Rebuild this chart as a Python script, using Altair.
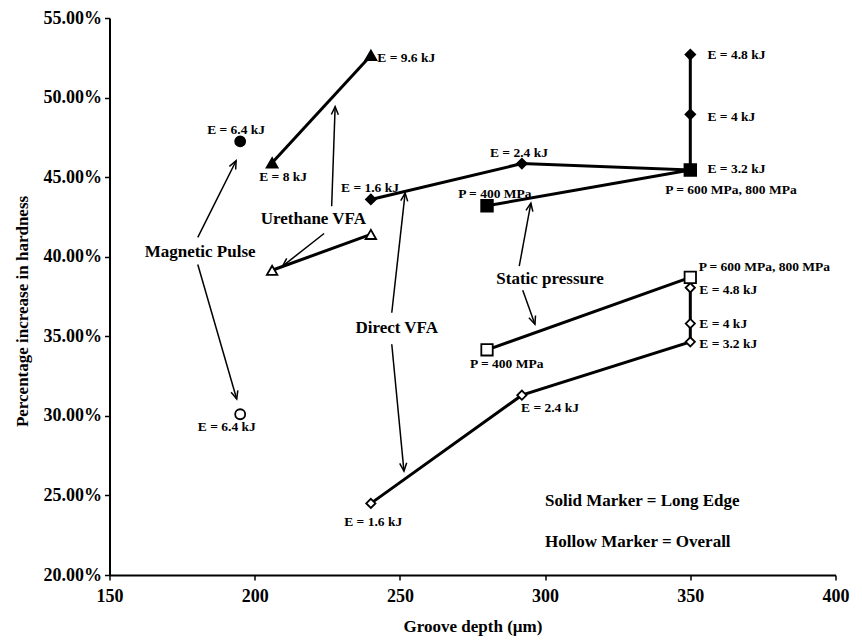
import math
import altair as alt
import pandas as pd

# ---------------- data ----------------
X_MIN, X_MAX = 150, 400
Y_MIN, Y_MAX = 20, 55
X_TICKS = [150, 200, 250, 300, 350, 400]
Y_TICKS = [20, 25, 30, 35, 40, 45, 50, 55]

# Solid markers = Long Edge
mp_solid_x = [195]
mp_solid_y = [47.25]
uvfa_solid_x = [206, 240]
uvfa_solid_y = [45.9, 52.65]
dvfa_solid_x = [240, 292, 350, 350, 350]
dvfa_solid_y = [43.6, 45.85, 45.45, 48.95, 52.7]
sp_solid_x = [280, 350]
sp_solid_y = [43.2, 45.45]

# Hollow markers = Overall
mp_hollow_x = [195]
mp_hollow_y = [30.1]
uvfa_hollow_x = [206, 240]
uvfa_hollow_y = [39.15, 41.4]
dvfa_hollow_x = [240, 292, 350, 350, 350]
dvfa_hollow_y = [24.5, 31.3, 34.65, 35.8, 38.05]
sp_hollow_x = [280, 350]
sp_hollow_y = [34.15, 38.7]

# point labels (data coordinates)
lab_text = ["E = 6.4 kJ", "E = 8 kJ", "E = 1.6 kJ", "E = 2.4 kJ",
            "P = 600 MPa, 800 MPa", "P = 400 MPa",
            "E = 6.4 kJ", "P = 600 MPa, 800 MPa", "P = 400 MPa",
            "E = 2.4 kJ", "E = 1.6 kJ"]
lab_x = [193.6, 209.8, 239.7, 291.0, 364.0, 282.7, 190.4, 375.5, 286.8, 301.7, 240.8]
lab_y = [47.97, 45.0, 44.31, 46.52, 44.17, 43.94, 29.33, 39.35, 33.25, 30.47, 23.34]

lab_left_text = ["E = 9.6 kJ", "E = 3.2 kJ", "E = 4 kJ", "E = 4.8 kJ",
                 "E = 4.8 kJ", "E = 4 kJ", "E = 3.2 kJ"]
lab_left_x = [242.2, 355.9, 355.9, 355.9, 353.1, 353.1, 353.1]
lab_left_y = [52.5, 45.53, 48.8, 52.68, 37.89, 35.76, 34.54]

# group annotations
ann_text = ["Magnetic Pulse", "Urethane VFA", "Direct VFA", "Static pressure"]
ann_x = [181.2, 220.2, 248.9, 301.7]
ann_y = [40.3, 42.4, 35.54, 38.61]

note_text = ["Solid Marker = Long Edge", "Hollow Marker = Overall"]
note_x = [300.0, 300.0]
note_y = [24.65, 22.09]

# arrows: start -> end (head at end)
arr_x1 = [180.4, 180.4, 226.5, 223.9, 247.2, 247.2, 291.1, 292.3]
arr_y1 = [41.22, 39.51, 43.17, 41.46, 36.48, 34.5, 39.41, 37.89]
arr_x2 = [193.6, 193.8, 227.7, 209.6, 251.8, 251.4, 295.1, 296.5]
arr_y2 = [46.03, 31.06, 49.43, 39.41, 44.0, 26.53, 43.37, 35.76]

# ---------------- layout / style ----------------
PW, PH = 726, 557
FONT = "Liberation Serif"

series = [
    ("mp_s", mp_solid_x, mp_solid_y, "circle", "black", 100, False),
    ("uv_s", uvfa_solid_x, uvfa_solid_y, "triangle-up", "black", 120, True),
    ("dv_s", dvfa_solid_x, dvfa_solid_y, "diamond", "black", 95, True),
    ("sp_s", sp_solid_x, sp_solid_y, "square", "black", 135, True),
    ("mp_h", mp_hollow_x, mp_hollow_y, "circle", "white", 100, False),
    ("uv_h", uvfa_hollow_x, uvfa_hollow_y, "triangle-up", "white", 110, True),
    ("dv_h", dvfa_hollow_x, dvfa_hollow_y, "diamond", "white", 85, True),
    ("sp_h", sp_hollow_x, sp_hollow_y, "square", "white", 130, True),
]

pt_rows, line_rows = [], []
for name, xs, ys, shp, fill, size, connect in series:
    for i, (xv, yv) in enumerate(zip(xs, ys)):
        pt_rows.append(dict(g=name, x=xv, y=yv, shape=shp, fill=fill, size=size))
        if connect:
            line_rows.append(dict(g=name, x=xv, y=yv, o=i))
pts = pd.DataFrame(pt_rows)
lines = pd.DataFrame(line_rows)

sx = PW / (X_MAX - X_MIN)
sy = PH / (Y_MAX - Y_MIN)
arr_rows = []
for a, b, c, d in zip(arr_x1, arr_y1, arr_x2, arr_y2):
    dxp = (c - a) * sx
    dyp = -(d - b) * sy
    ang = math.degrees(math.atan2(dxp, -dyp)) % 360
    arr_rows.append(dict(x=a, y=b, x2=c, y2=d, angle=ang))
arrows = pd.DataFrame(arr_rows)

labels_c = pd.DataFrame(dict(t=lab_text, x=lab_x, y=lab_y))
labels_l = pd.DataFrame(dict(t=lab_left_text, x=lab_left_x, y=lab_left_y))
anns = pd.DataFrame(dict(t=ann_text, x=ann_x, y=ann_y))
notes = pd.DataFrame(dict(t=note_text, x=note_x, y=note_y))

xscale = alt.Scale(domain=[X_MIN, X_MAX], nice=False, zero=False)
yscale = alt.Scale(domain=[Y_MIN, Y_MAX], nice=False, zero=False)

xaxis = alt.Axis(values=X_TICKS, title="Groove depth (µm)", labelFontSize=18,
                 titleFontSize=17, labelPadding=7, titlePadding=13,
                 labelFlush=False, labelOverlap=False)
yaxis = alt.Axis(values=Y_TICKS, title="Percentage increase in hardness",
                 labelExpr="format(datum.value, '.2f') + '%'",
                 labelFontSize=18, titleFontSize=17, labelPadding=3,
                 titlePadding=12, labelFlush=False, labelOverlap=False,
                 titleY=293)


def X(f):
    return alt.X(f, type="quantitative", scale=xscale, axis=xaxis)


def Y(f):
    return alt.Y(f, type="quantitative", scale=yscale, axis=yaxis)


line_layer = alt.Chart(lines).mark_line(color="black", strokeWidth=3).encode(
    x=X("x"), y=Y("y"), detail="g:N", order="o:Q")

rule_layer = alt.Chart(arrows).mark_rule(color="black", strokeWidth=1.5).encode(
    x=X("x"), y=Y("y"), x2="x2:Q", y2="y2:Q")

ARROW = "M -0.7 1.6 L 0 0 L 0.7 1.6"
head_layer = alt.Chart(arrows).mark_point(
    shape=ARROW, filled=False, stroke="black", strokeWidth=1.5, size=100,
    opacity=1).encode(
    x=X("x2"), y=Y("y2"), angle=alt.Angle("angle:Q", scale=None))

pt_layer = alt.Chart(pts).mark_point(
    filled=True, stroke="black", strokeWidth=1.8, opacity=1, fillOpacity=1).encode(
    x=X("x"), y=Y("y"),
    shape=alt.Shape("shape:N", scale=None),
    fill=alt.Fill("fill:N", scale=None),
    size=alt.Size("size:Q", scale=None))

text_c = alt.Chart(labels_c).mark_text(
    font=FONT, fontWeight="bold", fontSize=13.5, align="center",
    baseline="middle", color="black").encode(x=X("x"), y=Y("y"), text="t:N")
text_l = alt.Chart(labels_l).mark_text(
    font=FONT, fontWeight="bold", fontSize=13.5, align="left",
    baseline="middle", color="black").encode(x=X("x"), y=Y("y"), text="t:N")
text_a = alt.Chart(anns).mark_text(
    font=FONT, fontWeight="bold", fontSize=17, align="center",
    baseline="middle", color="black").encode(x=X("x"), y=Y("y"), text="t:N")
text_n = alt.Chart(notes).mark_text(
    font=FONT, fontWeight="bold", fontSize=17, align="left",
    baseline="middle", color="black").encode(x=X("x"), y=Y("y"), text="t:N")

chart = alt.layer(
    line_layer, rule_layer, head_layer, pt_layer, text_c, text_l, text_a, text_n
).properties(
    width=PW, height=PH,
    padding={"left": 101.5, "top": 10, "right": 15, "bottom": 66},
    autosize=alt.AutoSizeParams(type="none"),
    background="white",
).configure_view(stroke=None).configure_axis(
    grid=False, domainColor="black", domainWidth=2, tickColor="black",
    tickWidth=1.5, tickSize=5, labelFont=FONT, titleFont=FONT,
    labelFontWeight="bold", titleFontWeight="bold", labelColor="black",
    titleColor="black",
)

chart.save("out.html", embed_options={"renderer": "svg", "actions": False})
